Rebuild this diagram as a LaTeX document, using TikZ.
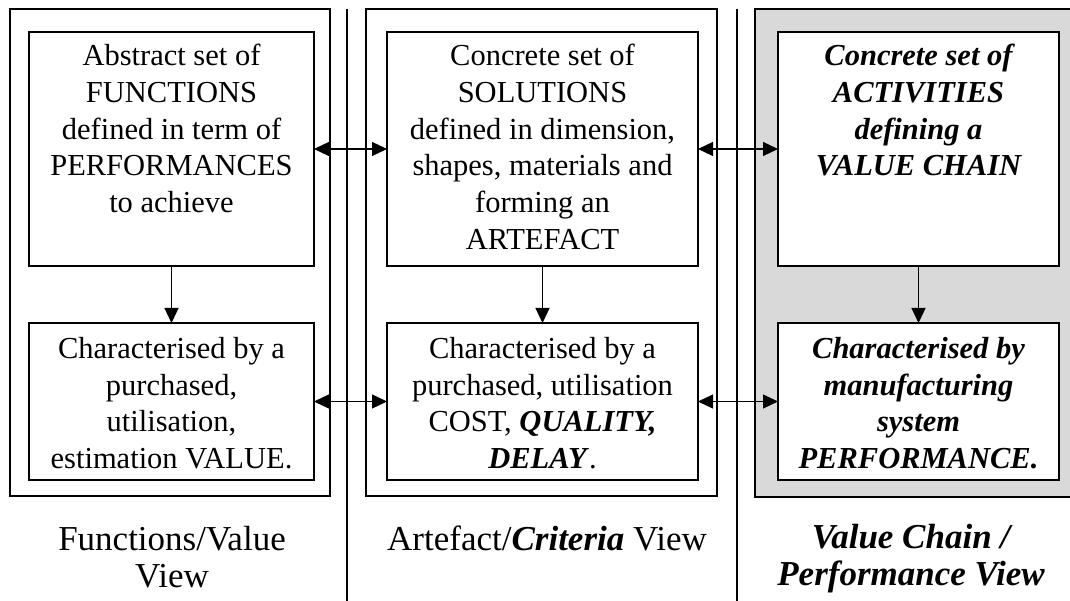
\documentclass[tikz,border=0pt]{standalone}
\usepackage{fontspec}
\setmainfont{Liberation Serif}
\usetikzlibrary{arrows.meta}
\tikzset{
  box/.style={draw=black, line width=1.5pt, fill=white, inner sep=0pt, outer sep=0pt},
  frame/.style={draw=black, line width=1.5pt},
  sep/.style={draw=black, line width=1.2pt},
  txt/.style={align=center, inner sep=0pt, anchor=north, font=\fontsize{30.5}{36.7}\selectfont},
  lbl/.style={align=center, inner sep=0pt, anchor=north, font=\fontsize{35}{37}\selectfont},
  conn/.style={line width=1.2pt, -{Triangle[length=15pt,width=14pt]}},
  dconn/.style={line width=1.2pt, {Triangle[length=15pt,width=14pt]}-{Triangle[length=15pt,width=14pt]}},
}
\begin{document}
\begin{tikzpicture}[x=1pt,y=-1pt]
\useasboundingbox (0,0) rectangle (1070,601);
% column frames
\draw[frame] (10,9) rectangle (330,496);
\draw[frame] (366,9) rectangle (717,496);
\draw[frame, fill=black!15] (755,9) rectangle (1075,497);
% separators
\draw[sep] (347,9) -- (347,601);
\draw[sep] (737,9) -- (737,601);
% boxes
\node[box, minimum width=285pt, minimum height=234pt] (f1) at (171.5,149) {};
\node[box, minimum width=285pt, minimum height=157pt] (f2) at (171.5,401.5) {};
\node[box, minimum width=311pt, minimum height=234pt] (a1) at (542.5,149) {};
\node[box, minimum width=311pt, minimum height=157pt] (a2) at (542.5,401.5) {};
\node[box, minimum width=281pt, minimum height=234pt] (v1) at (918.5,149) {};
\node[box, minimum width=281pt, minimum height=157pt] (v2) at (918.5,401.5) {};
% texts
\node[txt] (tf1) at (171.5,44) {Abstract set of\\FUNCTIONS\\defined in term of\\PERFORMANCES\\to achieve};
\node[txt] (ta1) at (542.5,44) {Concrete set of\\SOLUTIONS\\defined in dimension,\\shapes, materials and\\forming an\\ARTEFACT};
\node[txt, font=\fontsize{30.5}{36.7}\selectfont\bfseries\itshape] (tv1) at (918.5,44) {Concrete set of\\ACTIVITIES\\defining a\\VALUE CHAIN};
\node[txt] (tf2) at (171.5,337) {Characterised by a\\purchased,\\utilisation,\\estimation VALUE.};
\node[txt] (ta2) at (542.5,337) {Characterised by a\\purchased, utilisation\\COST, \textbf{\textit{QUALITY,}}\\\textbf{\textit{DELAY}}.};
\node[txt, font=\fontsize{30.5}{36.7}\selectfont\bfseries\itshape] (tv2) at (918.5,337) {Characterised by\\manufacturing\\system\\PERFORMANCE.};
% bottom labels
\node[lbl] (l1) at (172,526) {Functions/Value\\View};
\node[lbl] (l2) at (547,526) {Artefact/\textbf{\textit{Criteria}} View};
\node[lbl, font=\fontsize{35}{37}\selectfont\bfseries\itshape] (l3) at (911,524) {Value Chain /\\Performance View};
% connectors
\draw[conn] (f1.south) -- (f2.north);
\draw[conn] (a1.south) -- (a2.north);
\draw[conn] (v1.south) -- (v2.north);
\draw[dconn] (f1.east) -- (a1.west);
\draw[dconn] (a1.east) -- (v1.west);
\draw[dconn] (f2.east) -- (a2.west);
\draw[dconn] (a2.east) -- (v2.west);
\end{tikzpicture}
\end{document}
